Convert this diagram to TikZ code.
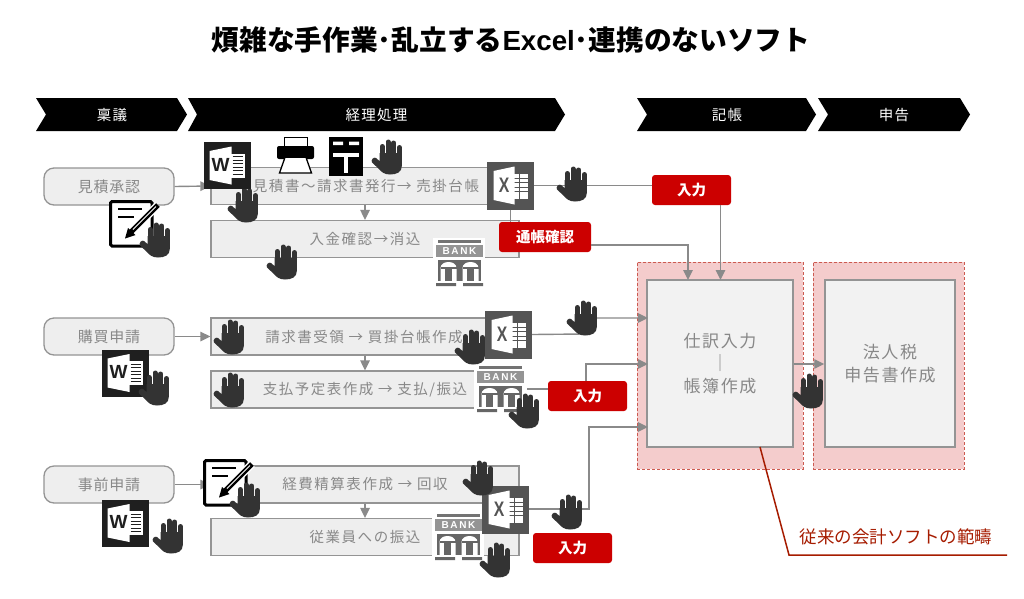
\documentclass[tikz,border=0pt]{standalone}
\usepackage{fontspec}
\setmainfont{Noto Sans CJK JP}
\newfontfamily\latinbold{Liberation Sans}
\newfontfamily\spcA[LetterSpace=10.5]{Noto Sans CJK JP}
\newfontfamily\spcB[LetterSpace=5]{Noto Sans CJK JP}
\newfontfamily\spcC[LetterSpace=9]{Noto Sans CJK JP}
\usetikzlibrary{arrows.meta,shapes.misc}
\definecolor{conn}{HTML}{8A8A8A}
\definecolor{txtg}{HTML}{888888}
\definecolor{boxf}{HTML}{EEEEEE}
\definecolor{boxl}{HTML}{949494}
\definecolor{redb}{HTML}{CC0000}
\definecolor{pinkf}{HTML}{F4CCCC}
\definecolor{pinkl}{HTML}{CC5A50}
\definecolor{handc}{HTML}{333333}
\definecolor{darkred}{HTML}{A61C00}
\tikzset{
 x=1pt,y=-1pt,
 chev/.style={fill=black,draw=none},
 chevtext/.style={text=white,font=\spcC\fontsize{14.5}{16}\selectfont},
 roundbox/.style={draw=boxl,fill=boxf,line width=1.3pt,rounded corners=10pt,minimum width=130pt,minimum height=37pt,text=txtg,font=\spcB\fontsize{15}{17}\selectfont,inner sep=0pt},
 procbox/.style={draw=boxl,fill=boxf,line width=1.3pt,minimum width=308pt,minimum height=37pt,inner sep=0pt},
 ptext/.style={text=txtg,font=\spcA\fontsize{14.5}{17}\selectfont,inner sep=0pt},
 redbox/.style={fill=redb,rounded corners=3pt,text=white,font=\bfseries\fontsize{14.5}{16}\selectfont,minimum height=30pt,inner sep=0pt},
 bigbox/.style={draw=boxl,fill=black!5,line width=1.5pt,inner sep=0pt,text=txtg,align=center,font=\spcC\fontsize{17}{22.5}\selectfont},
 zone/.style={fill=pinkf,draw=pinkl,densely dashed,line width=.7pt,inner sep=0pt},
 flow/.style={draw=conn,line width=1.4pt},
 flowa/.style={flow,-{Triangle[length=10pt,width=9.5pt]}},
 wordbox/.style={fill=black!88,minimum width=47pt,minimum height=47pt,inner sep=0pt,draw=none},
 excelbox/.style={fill=black!67,minimum width=47pt,minimum height=48pt,inner sep=0pt,draw=none},
 bankbox/.style={fill=white,minimum width=52pt,minimum height=50pt,inner sep=0pt,draw=none},
 handicon/.pic={
  \fill[handc] (-7.5,-4) -- (14.8,-4) -- (14.8,9) .. controls (14.8,15) and (10,17.5) .. (3,17.5) .. controls (-3,17.5) and (-6,14.5) .. (-8,12) -- (-15,5.5) .. controls (-16.5,3) and (-13.5,-.5) .. (-11,1) -- (-7.5,4) -- cycle;
  \draw[handc,line width=5pt,line cap=round] (-4.8,3) -- (-4.8,-10.5) (1,3) -- (1,-15) (6.7,3) -- (6.7,-14) (12.3,3) -- (12.3,-9.5);
 },
 wordicon/.pic={
  \fill[white] (3,-12) rectangle (17,12);
  \draw[black!88,line width=.9pt] (5,-9) -- (15,-9) (5,-5.5) -- (15,-5.5) (5,-2) -- (15,-2) (5,1.5) -- (15,1.5) (5,5) -- (15,5) (5,8.5) -- (15,8.5);
  \fill[white] (-18,-14.5) -- (4,-19) -- (4,19) -- (-18,14.5) -- cycle;
  \node[text=black!88,font=\latinbold\bfseries\fontsize{19}{19}\selectfont,inner sep=0pt] at (-7,-1) {W};
 },
 excelicon/.pic={
  \fill[white] (3,-12) rectangle (17,13);
  \draw[black!67,line width=.8pt] (3,-7.5) -- (17,-7.5) (3,-3) -- (17,-3) (3,1.5) -- (17,1.5) (3,6) -- (17,6) (9,-12) -- (9,13);
  \fill[white] (-17,-14.5) -- (4,-19) -- (4,19) -- (-17,14.5) -- cycle;
  \node[text=black!67,font=\latinbold\bfseries\fontsize{21}{21}\selectfont,inner sep=0pt,xscale=.75] at (-6.5,0) {X};
 },
 bankicon/.pic={
  \fill[black!55] (-21,-23) rectangle (22,-20);
  \fill[black!42] (-23,-18) rectangle (24,-6);
  \node[text=white,font=\latinbold\bfseries\fontsize{10}{10}\selectfont,inner sep=0pt] at (.5,-12) {B\,A\,N\,K};
  \fill[black!60] (-21,-3) rectangle (22,18);
  \foreach \dx in {-10.5,11.5}{
   \fill[white] (\dx-8,18) -- (\dx-8,5) .. controls (\dx-8,-3) and (\dx+8,-3) .. (\dx+8,5) -- (\dx+8,18) -- cycle;
   \fill[black!60] (\dx-3.5,5) rectangle (\dx+3.5,18);
   \fill[black!60] (\dx-8,4) rectangle (\dx+8,6);
  }
  \fill[black!60] (-23,20) rectangle (-3,23) (4,20) rectangle (24,23);
 },
 memoicon/.pic={
  \draw[black,fill=white,line width=3pt,rounded corners=1.5pt] (-23.5,-22) rectangle (18,22.5);
  \draw[black,line width=2pt] (-16,-14.5) -- (8,-14.5) (-16,-7) -- (0,-7);
  \draw[white,line width=8pt] (24,-18.5) -- (-7,12.5);
  \draw[black,line width=5pt] (24,-18.5) -- (-3,8.5);
  \draw[white,line width=.9pt] (22,-17) -- (-1,6);
  \fill[black] (-9,15) -- (-6,4.5) -- (1.5,11.5) -- cycle;
 },
 printericon/.pic={
  \draw[black,fill=white,line width=1pt] (-11.5,-18) rectangle (11.5,-8);
  \fill[black,rounded corners=2pt] (-18.5,-9) -- (18.5,-9) -- (18.5,4) -- (-18.5,4) -- cycle;
  \draw[black,fill=white,line width=1.3pt] (-10,1) -- (10,1) -- (16,18) -- (-16,18) -- cycle;
  \fill[black] (-11,0) rectangle (11,3);
 },
 posticon/.pic={
  \fill[black] (-17,-19.5) rectangle (17,19.5);
  \fill[white] (-13,-15) rectangle (-3,-11.5) (3,-15) rectangle (13,-11.5);
  \fill[white] (-13,-4) rectangle (13,0);
  \fill[white] (-2.2,0) rectangle (2.2,16);
 },
}
\begin{document}
\begin{tikzpicture}
\useasboundingbox (0,0) rectangle (1024,598);
\fill[white] (0,0) rectangle (1024,598);
\node[font=\bfseries\fontsize{27.7}{30}\selectfont,inner sep=0pt] (title) at (511,40) {煩雑な手作業･乱立する{\latinbold Excel}･連携のないソフト};
% chevrons
\fill[chev] (36,98) -- (177,98) -- (187,114.5) -- (177,131) -- (36,131) -- (46,114.5) -- cycle;
\node[chevtext] (h1) at (112,115) {稟議};
\fill[chev] (188,98) -- (555,98) -- (565,114.5) -- (555,131) -- (188,131) -- (197,114.5) -- cycle;
\node[chevtext] (h2) at (376.5,115) {経理処理};
\fill[chev] (637,98) -- (806,98) -- (816,114.5) -- (806,131) -- (637,131) -- (647,114.5) -- cycle;
\node[chevtext] (h3) at (727,115) {記帳};
\fill[chev] (818,98) -- (960,98) -- (970,114.5) -- (960,131) -- (818,131) -- (828,114.5) -- cycle;
\node[chevtext] (h4) at (894,115) {申告};
% zones
\node[zone,minimum width=166pt,minimum height=207pt] (z1) at (720,365.5) {};
\node[zone,minimum width=151pt,minimum height=207pt] (z2) at (888.5,365.5) {};
% left nodes
\node[roundbox] (r1) at (109,186.5) {見積承認};
\node[roundbox] (r2) at (109,336.5) {購買申請};
\node[roundbox] (r3) at (109,484.5) {事前申請};
% process boxes
\node[procbox] (b1) at (365,186) {};
\node[procbox] (b2) at (365,239) {};
\node[procbox] (b3) at (365,336.5) {};
\node[procbox] (b4) at (365,389.5) {};
\node[procbox] (b5) at (365,484.5) {};
\node[procbox] (b6) at (365,537) {};
% main boxes
\node[bigbox,minimum width=146pt,minimum height=167pt] (m1) at (720,363.5) {仕訳入力\\｜\\帳簿作成};
\node[bigbox,minimum width=130pt,minimum height=167pt] (m2) at (890,363.5) {法人税\\申告書作成};
% icon holders (placed first so connectors can refer to them)
\node[excelbox] (x1) at (510.5,185.5) {};
\node[excelbox] (x2) at (508.5,334.5) {};
\node[excelbox] (x3) at (505.5,509.5) {};
\node[redbox,minimum width=79pt] (in1) at (691.5,190) {入力};
\node[redbox,minimum width=92pt] (bk) at (545,237) {通帳確認};
\node[redbox,minimum width=79pt] (in2) at (587.5,396) {入力};
\node[redbox,minimum width=79pt] (in3) at (572.5,548) {入力};
\coordinate (t1) at (688,280);
\coordinate (t2) at (720.5,280);
\coordinate (l1) at (648,318);
\coordinate (l2) at (648,364);
\coordinate (l3) at (648,427);
\coordinate (e2) at (583,334);
\coordinate (e3) at (589,509);
\coordinate (b2r) at (527,389);
% connectors
\draw[flowa] (r1.east) -- (b1.west);
\draw[flowa] (r2.east) -- (b3.west);
\draw[flowa] (r3.east) -- (b5.west);
\draw[flowa] (b1.south) -- (b2.north);
\draw[flowa] (b3.south) -- (b4.north);
\draw[flowa] (b5.south) -- (b6.north);
\draw[flow] (x1.east) -- (in1.west |- x1.east);
\draw[flowa] (in1.south -| t2) -- (t2);
\draw[flow] (x1.south) -- (x1.south |- bk.north);
\draw[flowa] (bk.east |- 0,245) -| (t1);
\draw[flowa] (x2.east) -- (e2) |- (l1);
\draw[flow] (b2r) -- (in2.west |- b2r);
\draw[flowa] (586,381) |- (l2);
\draw[flowa] (x3.east |- e3) -- (e3) |- (l3);
\draw[flowa] (m1.east |- 0,364) -- (m2.west |- 0,364);
% callout
\coordinate (c1) at (760,447);
\coordinate (c2) at (789,555);
\coordinate (c3) at (1007,555);
\draw[darkred,line width=1.5pt] (c1) -- (c2) -- (c3);
\node[text=darkred,font=\fontsize{17.5}{20}\selectfont,inner sep=0pt] (ct) at (896,537) {従来の会計ソフトの範疇};
% texts of the process boxes
\node[ptext] (p1) at (366,186) {見積書〜請求書発行→ 売掛台帳};
\node[ptext] (p2) at (365,239) {入金確認→消込};
\node[ptext] (p3) at (364,337) {請求書受領 → 買掛台帳作成};
\node[ptext] (p4) at (365,390) {支払予定表作成 → 支払/振込};
\node[ptext] (p5) at (365,484) {経費精算表作成 → 回収};
\node[ptext] (p6) at (365,537) {従業員への振込};
% hands below icons
\pic at (243,205) {handicon};
% icons
\node[wordbox] (w1) at (227.5,165.5) {}; \pic at (w1) {wordicon};
\node[wordbox] (w2) at (125.5,373) {}; \pic at (w2) {wordicon};
\node[wordbox] (w3) at (125.5,523) {}; \pic at (w3) {wordicon};
\pic at (x1) {excelicon};
\pic at (x2) {excelicon};
\node[bankbox] (bank1) at (459,263) {}; \pic at (bank1) {bankicon};
\node[bankbox] (bank2) at (500,389) {}; \pic at (bank2) {bankicon};
\node[bankbox] (bank3) at (458,537) {}; \pic at (bank3) {bankicon};
\node[excelbox] (x3b) at (505.5,509.5) {}; \pic at (x3b) {excelicon};
\pic at (134,223.5) {memoicon};
\pic at (228,482.5) {memoicon};
\pic at (295.5,155) {printericon};
\pic at (346,156.5) {posticon};
% hands on top
\foreach \hx/\hy in {155/240,387/157,572/184,282/262,154/388,229/337,229/390,470/347,582/318,524/411,478/478,567/512,495/560,245/500,168/536,808/391}{
 \pic at (\hx,\hy) {handicon};
}
\end{tikzpicture}
\end{document}
